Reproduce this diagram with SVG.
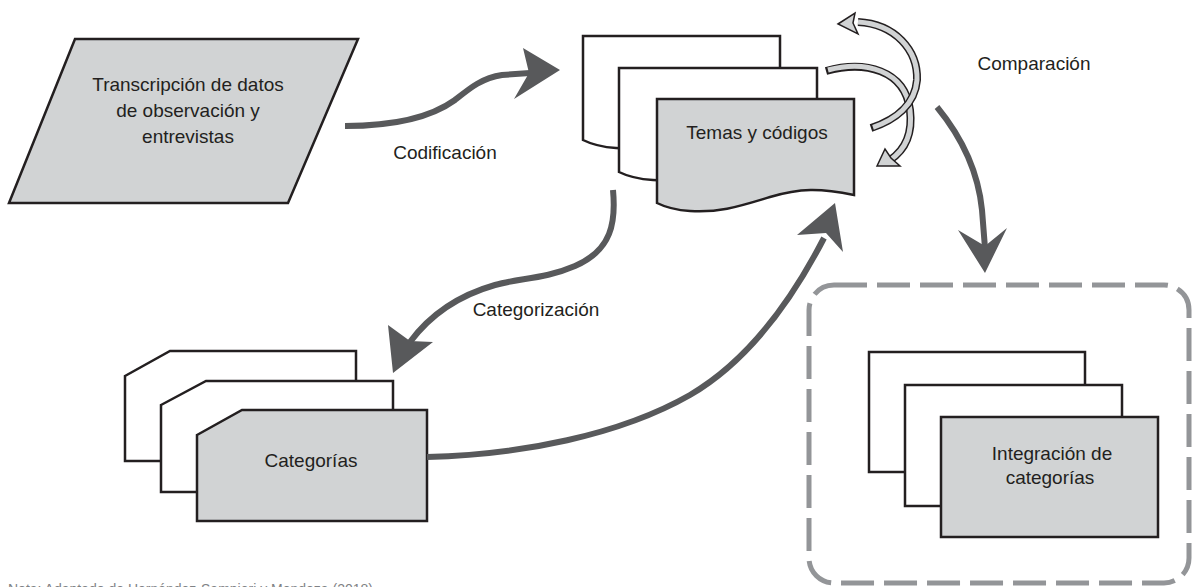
<svg xmlns="http://www.w3.org/2000/svg" width="1193" height="587" viewBox="0 0 1193 587">
<defs>
<style>
.box{fill:#d1d3d4;stroke:#231f20;stroke-width:2.5;stroke-linejoin:miter}
.page{fill:#ffffff;stroke:#231f20;stroke-width:2.5}
.lbl{font-family:"Liberation Sans",Arial,sans-serif;font-size:19px;fill:#231f20;text-anchor:middle}
.dk{fill:none;stroke:#58595b;stroke-width:6}
.dkh{fill:#58595b;stroke:none}
.lo{fill:none;stroke:#231f20;stroke-width:8;stroke-linecap:butt}
.li{fill:none;stroke:#d1d3d4;stroke-width:5;stroke-linecap:butt}
.lh{fill:#d1d3d4;stroke:#231f20;stroke-width:1.5;stroke-linejoin:miter}
.dash{fill:none;stroke:#939598;stroke-width:5;stroke-dasharray:33 10}
</style>
</defs>
<rect width="1193" height="587" fill="#ffffff"/>

<g id="integracion-frame">
<rect class="dash" x="809" y="285" width="380" height="298" rx="25" ry="25"/>
</g>

<g id="transcripcion">
<polygon class="box" points="75,39 358,39 288,203 9,203"/>
<text class="lbl" x="188" y="91">Transcripción de datos</text>
<text class="lbl" x="188" y="117">de observación y</text>
<text class="lbl" x="188" y="143">entrevistas</text>
</g>

<g id="temas">
<path class="page" d="M583,36 H780 V132 C746,125 726,125 696,134 C666,143 646,150 616,148 C600,147 591,144 583,140 Z"/>
<path class="page" d="M619,68 H817 V164 C783,157 763,157 733,166 C703,175 683,182 653,180 C637,179 627,176 619,172 Z"/>
<path class="box" d="M657,99 H854 V195 C820,188 800,188 770,197 C740,206 720,213 690,211 C674,210 665,207 657,203 Z"/>
<text class="lbl" x="757" y="139">Temas y códigos</text>
</g>

<g id="categorias">
<path class="page" d="M125,376 L170,351 H356 V461 H125 Z"/>
<path class="page" d="M161,405 L206,381 H393 V492 H161 Z"/>
<path class="box" d="M197,435 L242,410 H427 V521 H197 Z"/>
<text class="lbl" x="311" y="467">Categorías</text>
</g>

<g id="integracion">
<rect class="page" x="869" y="352" width="216" height="120"/>
<rect class="page" x="905" y="385" width="217" height="121"/>
<rect class="box" x="941" y="417" width="217" height="120"/>
<text class="lbl" x="1052" y="460">Integración de</text>
<text class="lbl" x="1050" y="484">categorías</text>
</g>

<g id="connectors">
<path class="dk" d="M345,126 C390,126 430,118 455,100 C470,88 482,78 502,75 L530,73"/>
<path class="dkh" d="M560,70 L523,48 L529,73 L514,99 Z"/>
<text class="lbl" x="445" y="159">Codificación</text>

<path class="dk" d="M613,190 C616,222 612,250 575,266 C545,279 520,278 495,285 C460,295 430,315 410,342"/>
<path class="dkh" d="M393,373 L388,325 L410,341 L433,342 Z"/>
<text class="lbl" x="536" y="316">Categorización</text>

<path class="dk" d="M427,457 C520,455 620,435 690,395 C750,360 792,300 824,238"/>
<path class="dkh" d="M835,203 L843,252 L826,233 L797,235 Z"/>

<path class="dk" d="M937,107 C960,135 978,170 982,210 L985,248"/>
<path class="dkh" d="M985,273 L958,230 L985,246 L1007,228 Z"/>
<text class="lbl" x="1034" y="70">Comparación</text>

<path class="lo" d="M826,71 C865,60 905,70 910,110 C913,135 905,150 890,160"/>
<path class="li" d="M828,70 C865,60 905,70 910,110 C913,135 905,150 890,160"/>
<path class="lh" d="M877,166 L885,149 L891,158 L900,166 Z"/>

<path class="lo" d="M858,22 C895,24 918,50 917,80 C915,105 895,120 871,128"/>
<path class="li" d="M858,22 C895,24 918,50 917,80 C915,105 895,120 873,127.3"/>
<path class="lh" d="M838,24 L855,13 L853,23 L858,34 Z"/>
</g>

<text x="8" y="594" style="font-family:'Liberation Sans',Arial,sans-serif;font-size:14px;fill:#808285">Nota: Adaptado de Hernández-Sampieri y Mendoza (2018)</text>
</svg>
